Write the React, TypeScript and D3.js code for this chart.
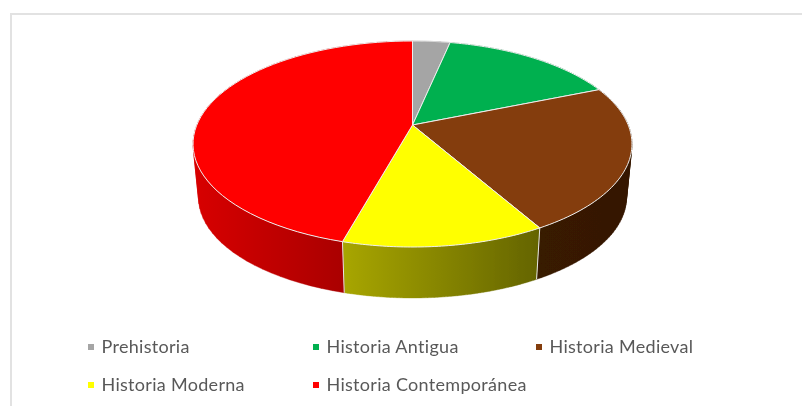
import React from "react";
import * as d3 from "d3";

const categories = ["Prehistoria", "Historia Antigua", "Historia Medieval", "Historia Moderna", "Historia Contemporánea"];
const values = [3.3, 15.5, 22.95, 12.55, 45.7];
const topColors = ["#a5a5a5", "#00b050", "#843c0c", "#ffff00", "#ff0000"];
const sideFrom = ["#6a6a6a", "#007030", "#381a00", "#a8a600", "#d80000"];
const sideTo = ["#6a6a6a", "#007030", "#351800", "#646400", "#aa0000"];
const legendX = [88, 313, 536, 88, 313];
const legendY = [347, 347, 347, 385, 385];

const cx = 412.5, hubY = 125, a = 215.7, b = 99.5, k = 0.1845;
const scale2 = 0.975, hubY2 = 179;

// angle: clockwise from the top, in radians
const project = (t: number, s = 1, y0 = hubY): [number, number] => {
  const u = Math.sin(t), v = Math.cos(t), w = 1 + k * v;
  return [cx + (s * a * u) / w, y0 - (s * b * v) / w];
};

const arcs = d3.pie<number>().sort(null)(values);
const line = d3.line();
const samples = (start: number, end: number) =>
  d3.range(0, 61).map((i) => start + ((end - start) * i) / 60);

export default function App() {
  return (
    <svg width={802} height={406} style={{ position: "absolute", left: 0, top: 0, background: "#fff" }}>
      <defs>
        <filter id="soft" x="-5%" y="-5%" width="110%" height="110%">
          <feGaussianBlur stdDeviation="0.45" />
        </filter>
        {arcs.map((d, i) => {
          const front = samples(d.startAngle, d.endAngle).filter((t) => Math.cos(t) < 0.1);
          const xs = (front.length ? front : [d.startAngle, d.endAngle]).map((t) => project(t)[0]);
          const [x1, x2] = d3.extent(xs) as [number, number];
          return (
            <linearGradient key={i} id={`side${i}`} gradientUnits="userSpaceOnUse" x1={x1} x2={x2} y1={0} y2={0}>
              <stop offset="0" stopColor={sideFrom[i]} />
              <stop offset="1" stopColor={sideTo[i]} />
            </linearGradient>
          );
        })}
      </defs>
      <path d="M11 406V14H802" fill="none" stroke="#e2e2e2" strokeWidth={2} />
      <g filter="url(#soft)">
        {arcs.map((d, i) => {
          const ts = samples(d.startAngle, d.endAngle);
          const quads = ts.slice(1).map((t, j) => {
            const t0 = ts[j];
            const q: [number, number][] = [project(t0), project(t), project(t, scale2, hubY2), project(t0, scale2, hubY2)];
            // keep one winding so overlapping quads never cancel under the nonzero rule
            if (d3.polygonArea(q) < 0) q.reverse();
            return line(q) + "Z";
          });
          return <path key={i} d={quads.join("")} fill={`url(#side${i})`} stroke={`url(#side${i})`} strokeWidth={0.4} />;
        })}
        {arcs.map((d, i) =>
          Math.cos(d.startAngle) < 0.1 ? (
            <path key={i} d={line([project(d.startAngle), project(d.startAngle, scale2, hubY2)]) as string} stroke="#e6e6e6" strokeWidth={1} fill="none" />
          ) : null
        )}
        {arcs.map((d, i) => {
          const pts = [[cx, hubY], ...samples(d.startAngle, d.endAngle).map((t) => project(t))];
          return <path key={i} d={line(pts as [number, number][]) + "Z"} fill={topColors[i]} stroke="#eeeeee" strokeWidth={1} strokeLinejoin="round" />;
        })}
      </g>
      <g filter="url(#soft)">
        {categories.map((c, i) => (
          <g key={c}>
            <rect x={legendX[i]} y={legendY[i] - 3} width={6} height={6} fill={topColors[i]} />
            <text x={legendX[i] + 13.5} y={legendY[i] + 6} fontFamily="Lato, sans-serif" fontSize={18} letterSpacing={0.3} fill="#595959">{c}</text>
          </g>
        ))}
      </g>
    </svg>
  );
}
